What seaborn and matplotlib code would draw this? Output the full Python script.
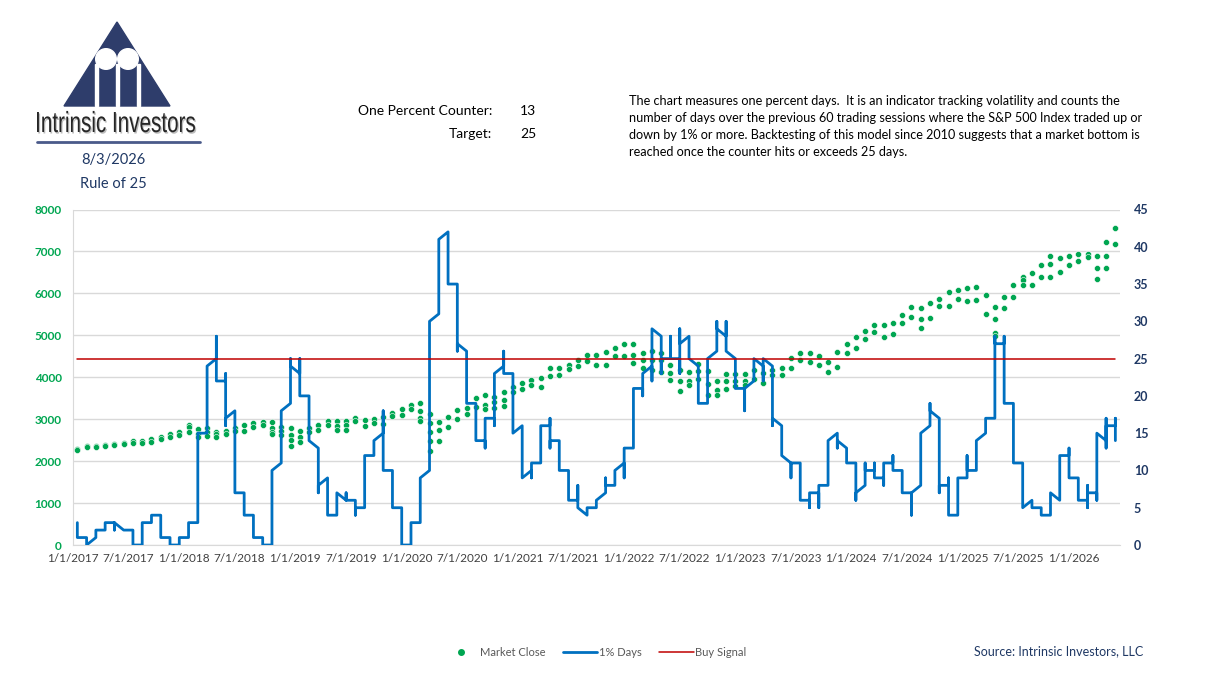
import matplotlib
matplotlib.use("Agg")
import matplotlib.pyplot as plt
from matplotlib.patches import Polygon, Circle, Rectangle, PathPatch
from matplotlib.textpath import TextPath
from matplotlib.font_manager import FontProperties
from matplotlib.transforms import Affine2D
from matplotlib.lines import Line2D
import pandas as pd
import seaborn as sns

# ---- data (monthly bins starting Jan 2017; several daily readings per month) ----
first_year = 2017
report_date = "8/3/2026"
counter_now = 13
target = 25

close_by_month = [
    [2280, 2265], [2365, 2330], [2370, 2345], [2390, 2350], [2415, 2390], [2440, 2410],
    [2475, 2430], [2480, 2430], [2520, 2465], [2580, 2530], [2650, 2575], [2690, 2630],
    [2870, 2810, 2700], [2760, 2650, 2580], [2790, 2700, 2590], [2700, 2640, 2580],
    [2730, 2650], [2785, 2720], [2850, 2715], [2915, 2820], [2930, 2870],
    [2925, 2800, 2700, 2650], [2810, 2730, 2630], [2790, 2630, 2500, 2350],
    [2710, 2580, 2450], [2790, 2705], [2850, 2745], [2945, 2870], [2945, 2840, 2750],
    [2950, 2850, 2745], [3025, 2965], [2980, 2840], [3005, 2905], [3045, 2885],
    [3155, 3065], [3240, 3110],
    [3330, 3235], [3385, 3200, 3030, 2955], [3130, 2900, 2700, 2480, 2240],
    [2940, 2750, 2470], [3045, 2820], [3230, 3000], [3270, 3130], [3500, 3300],
    [3580, 3350, 3240], [3530, 3400, 3270], [3640, 3450, 3310], [3760, 3660],
    [3855, 3715], [3935, 3810], [3975, 3770], [4210, 4020], [4230, 4060], [4300, 4190],
    [4420, 4260], [4530, 4390], [4540, 4300], [4605, 4300], [4705, 4510], [4795, 4515],
    [4795, 4530, 4330], [4590, 4400, 4225], [4630, 4400, 4170], [4580, 4400, 4130],
    [4300, 4100, 3930], [4175, 3900, 3665], [4130, 3900, 3820], [4305, 4140, 3965],
    [4155, 3850, 3585], [3900, 3700, 3575], [4080, 3900, 3720], [4075, 3900, 3780],
    [4075, 3900, 3810], [4180, 3970], [4110, 3860], [4170, 4055], [4210, 4060],
    [4450, 4220], [4590, 4400], [4590, 4370], [4515, 4290], [4375, 4120], [4595, 4240],
    [4785, 4570],
    [4960, 4690], [5095, 4905], [5255, 5080], [5245, 4965], [5305, 5020], [5485, 5285],
    [5665, 5430], [5650, 5400, 5185], [5760, 5410], [5865, 5690], [6030, 5710],
    [6090, 5870],
    [6120, 5830], [6145, 5850], [5955, 5520], [5670, 5400, 5050, 4980], [5910, 5650],
    [6200, 5920], [6390, 6320, 6200], [6480, 6200], [6680, 6400], [6900, 6700, 6400],
    [6840, 6520], [6880, 6680],
    [6930, 6770], [6930, 6870], [6880, 6600, 6340], [7220, 6900, 6600], [7550, 7170],
]

days_by_month = [
    [3, 1], [1, 0], [1, 2], [2, 3], [3, 2, 3], [2], [2, 0], [0, 3], [3, 4], [4, 1],
    [1, 0], [0, 1], [1, 3], [3, 15], [15, 24], [25, 28, 22], [22, 23, 16, 17], [18, 7],
    [7, 4], [4, 1], [1, 0], [0, 10], [11, 18], [19, 25, 24], [23, 25, 20], [20, 14],
    [13, 7, 8], [9, 4], [4, 7], [6, 7, 6], [6, 4, 5], [5, 12], [12, 14], [15, 18, 10],
    [10, 5], [5, 0], [0, 3], [3, 9], [10, 30], [31, 41], [42, 35], [35, 26, 27],
    [26, 19], [19, 14], [14, 13, 17], [17, 16, 23], [24, 26, 23], [23, 15], [16, 9],
    [10, 9, 11], [11, 16], [16, 17, 13, 14], [14, 10], [10, 6], [6, 8, 5], [4, 5],
    [5, 6], [7, 9, 8], [8, 10], [11, 9, 13], [13, 21], [21, 20, 23], [24, 22, 29],
    [28, 23, 25], [25, 28, 25], [25, 23, 29, 27], [28, 25], [24, 19], [19, 25],
    [26, 30, 29], [28, 30, 26], [25, 21], [21, 18, 21], [22, 25], [24, 22, 25],
    [24, 16, 17], [16, 12], [11, 9, 11], [11, 6], [6, 5, 7], [7, 5, 8], [8, 14],
    [15, 13, 14], [13, 11], [11, 6, 7], [8, 11, 10], [10, 11, 9], [9, 8, 11],
    [11, 12, 10], [10, 7], [7, 4, 7], [8, 15], [16, 19, 18], [17, 7, 8], [8, 9, 4],
    [4, 9], [9, 12, 10], [10, 14], [15, 17], [17, 28, 27], [27, 28, 19], [19, 11],
    [11, 5], [6, 5], [5, 4], [4, 7], [6, 12], [12, 13, 9], [9, 6], [6, 8, 5, 7],
    [7, 6, 15], [14, 17, 13, 16], [16, 17, 14],
]

description = ("The chart measures one percent days.  It is an indicator tracking volatility and counts the\n"
               "number of days over the previous 60 trading sessions where the S&P 500 Index traded up or\n"
               "down by 1% or more. Backtesting of this model since 2010 suggests that a market bottom is\n"
               "reached once the counter hits or exceeds 25 days.")

n_months = len(days_by_month)
close_df = pd.DataFrame([(m + 0.5, v) for m, vals in enumerate(close_by_month) for v in vals],
                        columns=["month", "close"])
days_df = pd.DataFrame([(m + 0.5, v) for m, vals in enumerate(days_by_month) for v in vals],
                       columns=["month", "days"])
signal_df = pd.DataFrame({"month": [m + 0.5 for m in range(n_months)], "signal": target})
tick_months = list(range(0, n_months, 6))
tick_labels = [f"{1 if m % 12 == 0 else 7}/1/{first_year + m // 12}" for m in tick_months]

GREEN = "#00A651"
BLUE = "#0070C0"
RED = "#C00000"
NAVY = "#1F3864"

sns.set_style("white")
plt.rcParams["font.family"] = ["Lato", "DejaVu Sans"]

W, H = 1209, 678
fig = plt.figure(figsize=(W / 100, H / 100), dpi=100)

# overlay in pixel coordinates for logo and header texts
ov = fig.add_axes([0, 0, 1, 1], zorder=-1)
ov.set_xlim(0, W)
ov.set_ylim(H, 0)
ov.axis("off")
logo = "#2E3D6B"
ov.add_patch(Polygon([[117, 22], [64, 106], [170, 106]], closed=True, color=logo))
for cx in (106, 128):
    ov.add_patch(Circle((cx, 59), 10.3, color="white"))
for sx in (95, 115.5, 137):
    ov.add_patch(Rectangle((sx, 64), 3.2, 42, color="white"))

# condensed company name: squeeze a text path to the logo width
tp = TextPath((0, 0), "Intrinsic Investors", size=10,
              prop=FontProperties(family="Liberation Sans"))
ext = tp.get_extents()
cap = TextPath((0, 0), "I", size=10, prop=FontProperties(family="Liberation Sans")).get_extents().height
sx = (195 - 37) / ext.width
sy = 20 / cap
for dx, dy, col in ((1.2, 1.5, "#bdbdbd"), (0, 0, "#262626")):
    tr = Affine2D().translate(-ext.x0, 0).scale(sx, -sy).translate(37 + dx, 132 + dy)
    ov.add_patch(PathPatch(tr.transform_path(tp), color=col, lw=0))
ov.plot([37, 200], [141.5, 141.5], color="#4A5A8A", lw=2)

ov.text(113, 160, report_date, ha="center", va="center", fontsize=10.5, color=NAVY)
ov.text(113, 184, "Rule of 25", ha="center", va="center", fontsize=10.5, color=NAVY)
ov.text(492, 111, "One Percent Counter:", ha="right", va="center", fontsize=10, color="black")
ov.text(520, 111, str(counter_now), ha="left", va="center", fontsize=10, color="black")
ov.text(492, 134, "Target:", ha="right", va="center", fontsize=10, color="black")
ov.text(520, 134, str(target), ha="left", va="center", fontsize=10, color="black")
ov.text(629, 95, description, ha="left", va="top", fontsize=9.1, color="black", linespacing=1.5)
ov.text(1143, 651, "Source: Intrinsic Investors, LLC", ha="right", va="center",
        fontsize=9, color=NAVY)

# main chart
ax = fig.add_axes([72.7 / W, 1 - 545 / H, (1120 - 72.7) / W, (545 - 209.5) / H])
ax2 = ax.twinx()

sns.scatterplot(data=close_df, x="month", y="close", ax=ax, color=GREEN, s=19,
                edgecolor="white", linewidth=0.4, zorder=3, legend=False)
sns.lineplot(data=days_df, x="month", y="days", ax=ax2, sort=False, estimator=None,
             color=BLUE, lw=2, zorder=4, legend=False)
sns.lineplot(data=signal_df, x="month", y="signal", ax=ax2, color=RED, lw=1.1,
             zorder=5, legend=False)

ax.set_xlim(0, n_months)
ax.set_ylim(0, 8000)
ax.set_yticks(range(0, 8001, 1000))
ax2.set_ylim(0, 45)
ax2.set_yticks(range(0, 46, 5))
ax.set_xticks(tick_months)
ax.set_xticklabels(tick_labels)
ax.set_xlabel("")
ax.set_ylabel("")
ax2.set_ylabel("")
ax.grid(axis="y", color="#D9D9D9", lw=1)
ax.set_axisbelow(True)
for s in ("top", "right"):
    ax.spines[s].set_visible(False)
for s in ax2.spines.values():
    s.set_visible(False)
ax.spines["left"].set_color("#D9D9D9")
ax.spines["bottom"].set_color("#D9D9D9")
ax.tick_params(axis="x", length=4, color="#D9D9D9", labelsize=8.5, labelcolor="#404040", pad=2)
ax.tick_params(axis="y", length=0, labelsize=8.5, labelcolor=GREEN, pad=8)
ax2.tick_params(axis="y", length=0, labelsize=9, labelcolor=NAVY, pad=10)
for t in ax.get_yticklabels():
    t.set_fontweight("bold")
for t in ax2.get_yticklabels():
    t.set_fontweight("bold")

handles = [
    Line2D([], [], ls="none", marker="o", markersize=4, color=GREEN),
    Line2D([], [], color=BLUE, lw=2),
    Line2D([], [], color=RED, lw=1.1),
]
fig.legend(handles, ["Market Close", "1% Days", "Buy Signal"], loc="center",
           bbox_to_anchor=(595 / W, 1 - 652 / H), ncol=3, frameon=False, fontsize=8,
           labelcolor="#595959", handlelength=3.1, handletextpad=0.1, columnspacing=1.6)

fig.savefig("out.png", dpi=100)
